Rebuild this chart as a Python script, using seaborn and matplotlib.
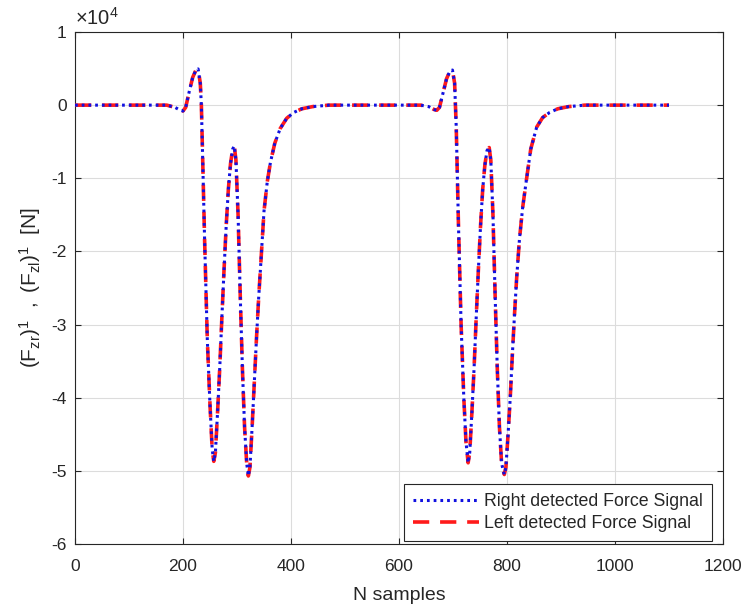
import numpy as np
import pandas as pd
import seaborn as sns
import matplotlib
matplotlib.use("Agg")
import matplotlib.pyplot as plt
from matplotlib.ticker import FuncFormatter

# ---- data (force in N) ----
samples = [0, 100, 170, 185, 195, 200, 205, 212, 218, 224, 228, 232, 234, 236, 240, 245,
           250, 254, 257, 260, 264, 268, 272, 276, 280, 284, 288, 292, 295, 298, 302,
           306, 310, 314, 318, 321, 324, 328, 332, 336, 340, 345, 350, 356, 362, 370,
           380, 392, 405, 420, 440, 470, 520, 600, 640, 655, 665, 670, 675, 682, 688,
           694, 699, 703, 706, 710, 715, 720, 724, 728, 731, 735, 739, 743, 747, 751,
           755, 759, 763, 767, 770, 774, 778, 782, 786, 790, 795, 798, 802, 806, 810,
           814, 818, 823, 829, 836, 844, 855, 866, 879, 894, 914, 944, 1000, 1100]
force = [0, 0, 0, -300, -700, -800, -300, 2000, 3800, 4800, 4950, 3000, 0, -6000,
         -18400, -32000, -41000, -47000, -48700, -47500, -42000, -36000, -29000, -22500,
         -16500, -11500, -8000, -6000, -5600, -7500, -15000, -26000, -36000, -44000,
         -49000, -50700, -49500, -44000, -38000, -32000, -26500, -20500, -14500, -10500,
         -7800, -5200, -3200, -1800, -1000, -500, -200, 0, 0, 0, 0, -200, -600, -700,
         -300, 1800, 3600, 4600, 4800, 3000, -3000, -16000, -30000, -40000, -46000,
         -48900, -47500, -42000, -36000, -29000, -22500, -16500, -11500, -8200, -6200,
         -5800, -7500, -15000, -26000, -36000, -44000, -49000, -50500, -49500, -45000,
         -40000, -34000, -28500, -23500, -18400, -14000, -10200, -6000, -3000, -1700,
         -1000, -500, -200, 0, 0, 0]
right_force = force
left_force = force
series_labels = ["Right detected Force Signal", "Left detected Force Signal"]
x_ticks = [0, 200, 400, 600, 800, 1000, 1200]
y_ticks = [-60000, -50000, -40000, -30000, -20000, -10000, 0, 10000]
y_scale = 1e4

sns.set_theme(style="whitegrid")
plt.rcParams["font.family"] = ["Liberation Sans", "DejaVu Sans"]
plt.rcParams["mathtext.fontset"] = "custom"
plt.rcParams["mathtext.rm"] = "Liberation Sans"
plt.rcParams["mathtext.it"] = "Liberation Sans"
plt.rcParams["mathtext.bf"] = "Liberation Sans:bold"
plt.rcParams["axes.unicode_minus"] = False

TXT = "#262626"
df_r = pd.DataFrame({"x": samples, "y": right_force})
df_l = pd.DataFrame({"x": samples, "y": left_force})

W, H = 742, 610
fig = plt.figure(figsize=(W / 100, H / 100), dpi=100)
ax = fig.add_axes([75 / W, 1 - 544 / H, 648 / W, 512 / H])
ax.set_facecolor("white")

sns.lineplot(data=df_l, x="x", y="y", ax=ax, color="#ff1a1a", lw=2.6,
             label=series_labels[1], sort=False, estimator=None, zorder=3)
ax.lines[-1].set_dashes((4.5, 3.0))
sns.lineplot(data=df_r, x="x", y="y", ax=ax, color="#1010e0", lw=2.2,
             label=series_labels[0], sort=False, estimator=None, zorder=4)
ax.lines[-1].set_dashes((0.9, 1.3))

ax.set_xlim(0, 1200)
ax.set_ylim(-60000, 10000)
ax.set_xticks(x_ticks)
ax.set_yticks(y_ticks)
ax.yaxis.set_major_formatter(FuncFormatter(lambda v, p: f"{v / y_scale:g}"))
ax.text(0.0, 1.006, r"$\times10^{4}$", transform=ax.transAxes, fontsize=14.5,
        color=TXT, ha="left", va="bottom")

ax.grid(True, color="#dcdcdc", lw=0.8)
for s in ax.spines.values():
    s.set_color(TXT)
    s.set_linewidth(0.8)
    s.set_visible(True)
ax.tick_params(direction="in", length=4, width=0.8, colors=TXT,
               labelsize=12.5, top=True, right=True, left=True, bottom=True)
ax.tick_params(axis="x", pad=11)
ax.tick_params(axis="y", pad=6)

ax.set_xlabel("N samples", fontsize=14, color=TXT, labelpad=9)
ax.set_ylabel(r"$\mathrm{(F_{zr})^1\ \ ,\ (F_{zl})^1}$  [N]", fontsize=15,
              color=TXT, labelpad=6)

handles, labels = ax.get_legend_handles_labels()
order = [labels.index(series_labels[0]), labels.index(series_labels[1])]
leg = ax.legend([handles[i] for i in order], [labels[i] for i in order],
                loc="lower right", bbox_to_anchor=(1 - 11 / 648, 3 / 512),
                fontsize=12.8, frameon=True, fancybox=False,
                framealpha=1, edgecolor=TXT, borderpad=0.5,
                handlelength=3.7, handletextpad=0.3, labelspacing=0.3,
                borderaxespad=0.0)
leg.get_frame().set_linewidth(0.8)
for t in leg.get_texts():
    t.set_color(TXT)

fig.savefig("out.png", dpi=100, facecolor="white")
